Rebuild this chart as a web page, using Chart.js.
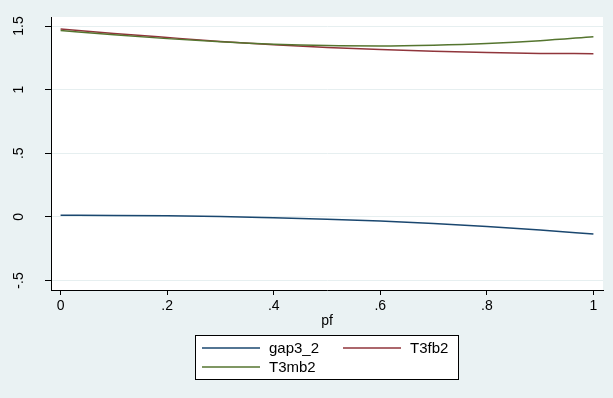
<!DOCTYPE html>
<html>
<head>
<meta charset="utf-8">
<script src="https://cdn.jsdelivr.net/npm/chart.js@4/dist/chart.umd.min.js"></script>
<style>
  html, body { margin: 0; padding: 0; background: #EAF2F3; }
  #wrap { width: 613px; height: 398px; position: relative; }
</style>
</head>
<body>
<div id="wrap"><canvas id="c" width="613" height="398"></canvas></div>
<script>
// Predicted values over pf
const pf      = [0, 0.1, 0.2, 0.3, 0.4, 0.5, 0.6, 0.7, 0.8, 0.9, 1.0];
const gap3_2  = [0.012, 0.011, 0.008, 0.002, -0.008, -0.019, -0.033, -0.052, -0.075, -0.103, -0.135];
const T3fb2   = [1.477, 1.442, 1.410, 1.379, 1.352, 1.332, 1.315, 1.301, 1.291, 1.285, 1.283];
const T3mb2   = [1.464, 1.431, 1.401, 1.376, 1.357, 1.346, 1.343, 1.349, 1.362, 1.384, 1.416];

const seriesNames = ['gap3_2', 'T3fb2', 'T3mb2'];

const xTicks      = [0, 0.2, 0.4, 0.6, 0.8, 1];
const xTickLabels = ['0', '.2', '.4', '.6', '.8', '1'];
const yTicks      = [-0.5, 0, 0.5, 1, 1.5];
const yTickLabels = ['-.5', '0', '.5', '1', '1.5'];
const xTitle = 'pf';

const FONT = '"Liberation Sans", Arial, sans-serif';
const colors = ['#1A476F', '#90353B', '#55752F'];

function pts(ys) { return pf.map((x, i) => ({ x: x, y: ys[i] })); }

// White plot region behind the lines
const plotBg = {
  id: 'plotBg',
  beforeDraw(chart) {
    const { ctx, chartArea: a } = chart;
    ctx.save();
    ctx.fillStyle = '#EAF2F3';
    ctx.fillRect(0, 0, chart.width, chart.height);
    ctx.fillStyle = '#FFFFFF';
    ctx.fillRect(a.left, a.top, a.right - a.left, a.bottom - a.top);
    ctx.restore();
  }
};

// Vertical (rotated) y tick labels
const yLabels = {
  id: 'yLabels',
  afterDraw(chart) {
    const { ctx } = chart;
    const ys = chart.scales.y;
    ctx.save();
    ctx.fillStyle = '#000';
    ctx.font = '14px ' + FONT;
    ctx.textAlign = 'center';
    ctx.textBaseline = 'middle';
    yTicks.forEach((v, i) => {
      const py = ys.getPixelForValue(v);
      ctx.save();
      ctx.translate(19, py);
      ctx.rotate(-Math.PI / 2);
      ctx.fillText(yTickLabels[i], 0, 0);
      ctx.restore();
    });
    ctx.restore();
  }
};

// Boxed legend below the x axis
const boxLegend = {
  id: 'boxLegend',
  afterDraw(chart) {
    const { ctx } = chart;
    const bx = 195, by = 335, bw = 263, bh = 44;
    ctx.save();
    ctx.fillStyle = '#FFFFFF';
    ctx.fillRect(bx, by, bw, bh);
    ctx.strokeStyle = '#000';
    ctx.lineWidth = 1;
    ctx.strokeRect(bx + 0.5, by + 0.5, bw, bh);
    const slots = [
      { x: 202, y: 348 },
      { x: 343, y: 348 },
      { x: 202, y: 367 }
    ];
    ctx.font = '15px ' + FONT;
    ctx.textBaseline = 'middle';
    ctx.textAlign = 'left';
    chart.data.datasets.forEach((ds, i) => {
      const s = slots[i];
      ctx.strokeStyle = ds.borderColor;
      ctx.lineWidth = 1.5;
      ctx.beginPath();
      ctx.moveTo(s.x, s.y);
      ctx.lineTo(s.x + 58, s.y);
      ctx.stroke();
      ctx.fillStyle = '#000';
      ctx.fillText(ds.label, s.x + 67, s.y + 1);
    });
    ctx.restore();
  }
};

new Chart(document.getElementById('c'), {
  type: 'line',
  data: {
    datasets: [
      { label: seriesNames[0], data: pts(gap3_2), borderColor: colors[0], order: 2 },
      { label: seriesNames[1], data: pts(T3fb2),  borderColor: colors[1], order: 1 },
      { label: seriesNames[2], data: pts(T3mb2),  borderColor: colors[2], order: 0 }
    ].map(d => Object.assign(d, {
      borderWidth: 1.5, pointRadius: 0, fill: false, cubicInterpolationMode: 'monotone'
    }))
  },
  options: {
    responsive: false,
    devicePixelRatio: 1,
    animation: false,
    layout: { padding: { top: 17, right: 10, bottom: 68, left: 0 } },
    plugins: { legend: { display: false }, tooltip: { enabled: false } },
    scales: {
      x: {
        type: 'linear',
        min: -0.018, max: 1.018,
        afterBuildTicks(s) { s.ticks = xTicks.map(v => ({ value: v })); },
        afterFit(s) { s.height = 40; },
        ticks: {
          color: '#000',
          font: { family: FONT, size: 14 },
          padding: 3,
          maxRotation: 0,
          callback: (v) => { const i = xTicks.indexOf(v); return i >= 0 ? xTickLabels[i] : ''; }
        },
        grid: { drawOnChartArea: false, drawTicks: true, tickLength: 5, tickColor: '#000', tickWidth: 1 },
        border: { display: true, color: '#000', width: 1 },
        title: {
          display: true, text: xTitle, color: '#000',
          font: { family: FONT, size: 14 }, padding: { top: 0, bottom: 0 }
        }
      },
      y: {
        type: 'linear',
        min: -0.575, max: 1.571,
        afterBuildTicks(s) { s.ticks = yTicks.map(v => ({ value: v })); },
        afterFit(s) { s.width = 51; },
        ticks: { display: false },
        grid: { drawOnChartArea: true, color: '#E6EFF0', lineWidth: 1, drawTicks: true, tickLength: 6, tickColor: '#000', tickWidth: 1 },
        border: { display: true, color: '#000', width: 1 }
      }
    }
  },
  plugins: [plotBg, yLabels, boxLegend]
});
</script>
</body>
</html>
